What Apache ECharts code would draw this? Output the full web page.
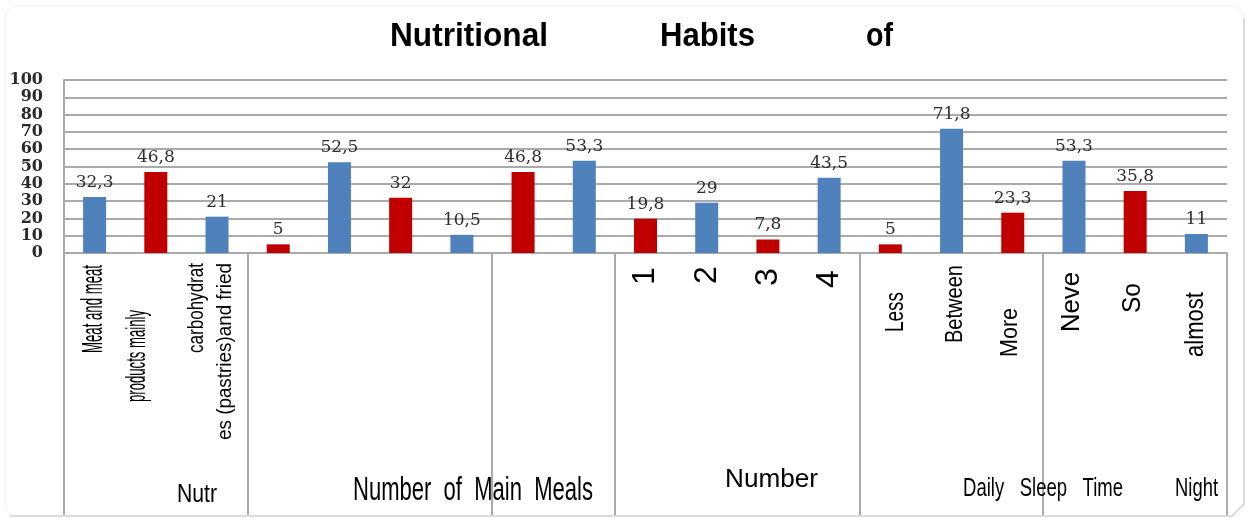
<!DOCTYPE html>
<html>
<head>
<meta charset="utf-8">
<script src="https://cdn.jsdelivr.net/npm/echarts@6/dist/echarts.min.js"></script>
<style>
  html, body { margin: 0; padding: 0; background: #fff; }
  #chart { width: 1249px; height: 518px; }
</style>
</head>
<body>
<div id="chart"></div>
<script>
// Bars, left to right
const categories = [
  'Meat and meat products', 'Mainly carbohydrates', 'Pastries and fried',
  'Meals A', 'Meals B', 'Meals C', 'Meals D',
  'Breakfast A', 'Breakfast B',
  '1', '2', '3', '4',
  'Less', 'Between', 'More',
  'Never', 'Sometimes', 'Almost every night'
];
const values = [32.3, 46.8, 21, 5, 52.5, 32, 10.5, 46.8, 53.3, 19.8, 29, 7.8, 43.5, 5, 71.8, 23.3, 53.3, 35.8, 11];

// Category index where each group starts (last entry closes the final group)
const groupBounds = [0, 3, 7, 9, 13, 16, 19];

// Value axis ticks
const yMin = 0, yMax = 100, yStep = 10;

// Title words
const titleWords = ['Nutritional', 'Habits', 'of'];

// Vertical (rotated) category captions
const rotatedTexts = ['Meat and meat', 'products mainly', 'carbohydrat', 'es (pastries)and fried',
  'Less', 'Between', 'More', 'Neve', 'So', 'almost'];
const digitTexts = ['1', '2', '3', '4'];
// Group captions under the category band
const groupTexts = ['Nutr', 'Number  of  Main  Meals', 'Number', 'Daily   Sleep   Time', 'Night'];

const BLUE = '#4F81BD', RED = '#C00000', GRID = '#aaaaaa';
const FONT = '"Liberation Sans", Arial, sans-serif';

const chart = echarts.init(document.getElementById('chart'), null, { renderer: 'canvas' });

chart.setOption({
  animation: false,
  backgroundColor: '#fff',
  grid: { left: 64, right: 22, top: 80, bottom: 265, containLabel: false },
  xAxis: {
    type: 'category',
    data: categories,
    boundaryGap: true,
    axisLine: { show: true, lineStyle: { color: GRID, width: 2 } },
    axisTick: { show: false },
    axisLabel: { show: false }
  },
  yAxis: {
    type: 'value',
    min: yMin, max: yMax, interval: yStep,
    axisLine: { show: true, lineStyle: { color: GRID, width: 2 } },
    axisTick: { show: false },
    axisLabel: {
      margin: 21,
      color: '#2a2a2a',
      fontFamily: '"DejaVu Serif", serif',
      fontWeight: 'bold',
      fontSize: 16
    },
    splitLine: { lineStyle: { color: GRID, width: 2 } }
  },
  series: [{
    type: 'bar',
    data: values,
    barWidth: 23,
    itemStyle: { color: p => (p.dataIndex % 2 === 0 ? BLUE : RED) },
    label: {
      show: true,
      position: 'top',
      distance: 6,
      color: '#2e2e2e',
      fontFamily: '"DejaVu Serif", serif',
      fontSize: 17,
      formatter: p => String(p.value).replace('.', ',')
    }
  }]
});

// ---- captions and separators ----
const ctx = document.createElement('canvas').getContext('2d');
function measure(text, size, weight) {
  ctx.font = (weight || 'normal') + ' ' + size + 'px ' + FONT;
  return ctx.measureText(text).width;
}

const cx = i => chart.convertToPixel({ xAxisIndex: 0 }, i);
const band = cx(1) - cx(0);
const edgeX = i => (i < categories.length ? cx(i) - band / 2 : cx(categories.length - 1) + band / 2);
const baseY = chart.convertToPixel({ yAxisIndex: 0 }, 0);

const g = [];

// outer frame: faint outline, slightly darker on the right and bottom
g.push({ type: 'rect', shape: { x: 5, y: 6, width: 1239, height: 510, r: 12 },
  style: { fill: 'none', stroke: '#f3f3f3', lineWidth: 1 }, z: 1 });
g.push({ type: 'polyline', shape: { points: [[1244, 18], [1244, 504], [1232, 516], [10, 516]] },
  style: { fill: 'none', stroke: '#d2d2d2', lineWidth: 1.5 }, z: 1 });

// group separators below the axis
groupBounds.forEach(b => {
  const x = Math.round(edgeX(b));
  g.push({ type: 'line', shape: { x1: x, y1: baseY, x2: x, y2: 515 },
    style: { stroke: GRID, lineWidth: 2 }, z: 5 });
});

// title
const titleLayout = [[390, 548], [660, 755], [866, 893]];
titleWords.forEach((w, k) => {
  const [l, r] = titleLayout[k];
  const sx = (r - l) / measure(w, 34, 'bold');
  g.push({ type: 'text', x: l, y: 37, scaleX: sx, z: 10,
    style: { text: w, fontFamily: FONT, fontWeight: 'bold', fontSize: 34, fill: '#000',
      align: 'left', verticalAlign: 'middle' } });
});

// rotated captions: [centre x, top end, length, font size]
const rotLayout = [
  [94, 265, 88, 30], [138, 310, 92, 27], [197, 263, 90, 22], [225, 263, 177, 21],
  [896, 292, 40, 25], [955, 265, 78, 24], [1010, 308, 49, 24],
  [1072, 272, 60, 25], [1133, 283, 30, 25], [1196, 292, 65, 25]
];
rotatedTexts.forEach((t, k) => {
  const [x, top, len, size] = rotLayout[k];
  const sx = len / measure(t, size);
  g.push({ type: 'text', x: x, y: top, rotation: Math.PI / 2, scaleX: sx, z: 10,
    style: { text: t, fontFamily: FONT, fontSize: size, fill: '#000',
      align: 'right', verticalAlign: 'middle' } });
});

// rotated digits, centred on their bars
const digitCy = [276, 275, 277, 279];
digitTexts.forEach((t, k) => {
  g.push({ type: 'text', x: cx(9 + k), y: digitCy[k], rotation: Math.PI / 2, z: 10,
    style: { text: t, fontFamily: FONT, fontSize: 32, fill: '#000',
      align: 'center', verticalAlign: 'middle' } });
});

// group captions: [left, right, centre y, font size]
const groupLayout = [[177, 217, 495, 25], [353, 593, 491, 34], [725, 818, 480, 25],
  [963, 1123, 489, 26], [1175, 1218, 489, 26]];
groupTexts.forEach((t, k) => {
  const [l, r, y, size] = groupLayout[k];
  const sx = (r - l) / measure(t, size);
  g.push({ type: 'text', x: l, y: y, scaleX: sx, z: 10,
    style: { text: t, fontFamily: FONT, fontSize: size, fill: '#000',
      align: 'left', verticalAlign: 'middle' } });
});

chart.setOption({ graphic: g });
</script>
</body>
</html>
